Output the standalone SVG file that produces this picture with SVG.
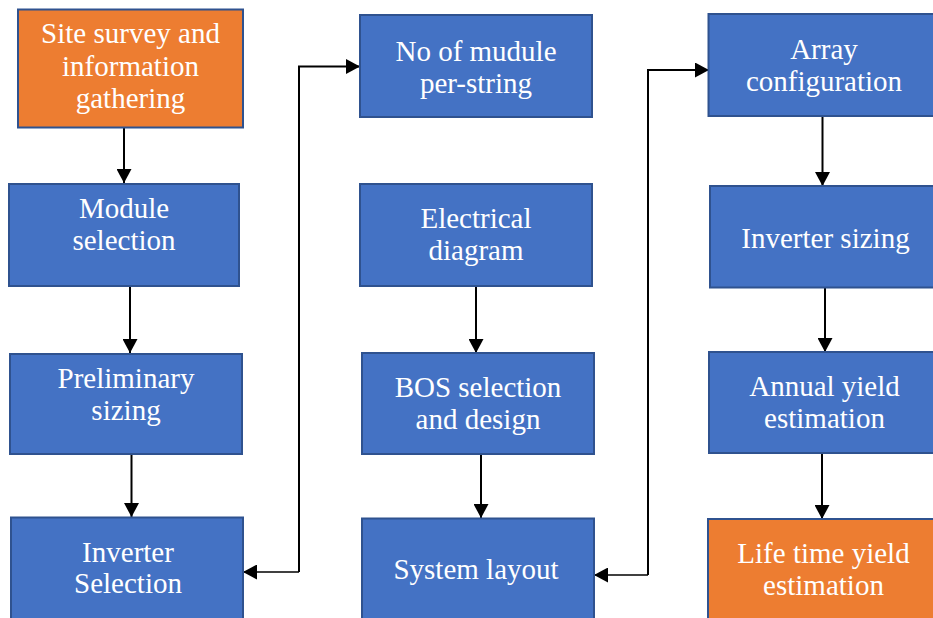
<svg xmlns="http://www.w3.org/2000/svg" width="933" height="618" viewBox="0 0 933 618">
<defs>
<style>
.box{stroke:#2F528F;stroke-width:2}
.blue{fill:#4472C4}
.orange{fill:#ED7D31}
.t{font-family:"Liberation Serif","Times New Roman",serif;font-size:29px;fill:#ffffff;text-anchor:middle}
.c{fill:none;stroke:#000;stroke-width:2}
.thin{fill:none;stroke:#000;stroke-width:1.3}
</style>
<marker id="ah" markerUnits="userSpaceOnUse" markerWidth="15" markerHeight="15" refX="14" refY="7.5" orient="auto">
<path d="M0,0 L14,7.5 L0,15 Z" fill="#000"/>
</marker>
</defs>
<rect width="933" height="618" fill="#ffffff"/>

<g id="connectors">
<path class="c" d="M124,128 V183" marker-end="url(#ah)"/>
<path class="c" d="M130,286 V353" marker-end="url(#ah)"/>
<path class="c" d="M131.5,455 V517" marker-end="url(#ah)"/>
<path class="c" d="M299,572 V66.5 H360" marker-end="url(#ah)"/>
<path class="thin" d="M299,572 H243" marker-end="url(#ah)"/>
<path class="c" d="M476,286 V353" marker-end="url(#ah)"/>
<path class="c" d="M481,455 V518" marker-end="url(#ah)"/>
<path class="c" d="M648,575 V70 H709" marker-end="url(#ah)"/>
<path class="thin" d="M648,575 H594" marker-end="url(#ah)"/>
<path class="c" d="M822.5,116 V186" marker-end="url(#ah)"/>
<path class="c" d="M825,288 V352" marker-end="url(#ah)"/>
<path class="c" d="M822,454 V519" marker-end="url(#ah)"/>
</g>

<g id="site-survey">
<rect class="box orange" x="18" y="9.5" width="225" height="118"/>
<text class="t" x="130.5" y="43">Site survey and</text>
<text class="t" x="130.5" y="75.5">information</text>
<text class="t" x="130.5" y="107.5">gathering</text>
</g>

<g id="module-selection">
<rect class="box blue" x="9" y="184" width="230" height="102"/>
<text class="t" x="124" y="218">Module</text>
<text class="t" x="124" y="250">selection</text>
</g>

<g id="preliminary-sizing">
<rect class="box blue" x="10" y="354" width="232" height="100"/>
<text class="t" x="126" y="388">Preliminary</text>
<text class="t" x="126" y="419.5">sizing</text>
</g>

<g id="inverter-selection">
<rect class="box blue" x="11" y="517.5" width="232" height="110"/>
<text class="t" x="128" y="561.5">Inverter</text>
<text class="t" x="128" y="593">Selection</text>
</g>

<g id="modules-per-string">
<rect class="box blue" x="360" y="15" width="232" height="102"/>
<text class="t" x="476" y="60.5">No of mudule</text>
<text class="t" x="476" y="93">per-string</text>
</g>

<g id="electrical-diagram">
<rect class="box blue" x="360" y="184" width="232" height="102"/>
<text class="t" x="476" y="228">Electrical</text>
<text class="t" x="476" y="259.5">diagram</text>
</g>

<g id="bos-selection">
<rect class="box blue" x="362" y="353" width="232" height="101"/>
<text class="t" x="478" y="397">BOS selection</text>
<text class="t" x="478" y="428.5">and design</text>
</g>

<g id="system-layout">
<rect class="box blue" x="362" y="518.5" width="232" height="110"/>
<text class="t" x="476" y="578.5">System layout</text>
</g>

<g id="array-configuration">
<rect class="box blue" x="708.5" y="14" width="240" height="102"/>
<text class="t" x="824" y="59">Array</text>
<text class="t" x="824" y="91">configuration</text>
</g>

<g id="inverter-sizing">
<rect class="box blue" x="710" y="186" width="240" height="101.5"/>
<text class="t" x="825.5" y="247.5">Inverter sizing</text>
</g>

<g id="annual-yield">
<rect class="box blue" x="709" y="352" width="240" height="101"/>
<text class="t" x="824.5" y="396">Annual yield</text>
<text class="t" x="824.5" y="428">estimation</text>
</g>

<g id="lifetime-yield">
<rect class="box orange" x="708" y="519" width="240" height="110"/>
<text class="t" x="823.5" y="563">Life time yield</text>
<text class="t" x="823.5" y="594.5">estimation</text>
</g>
</svg>
